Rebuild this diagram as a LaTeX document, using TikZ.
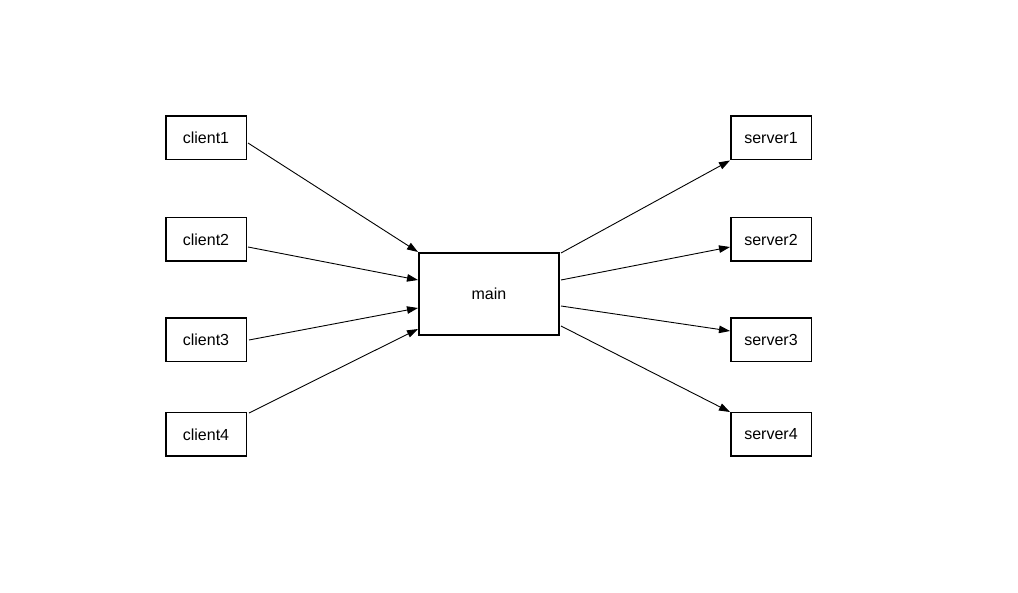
\documentclass[tikz,border=0pt]{standalone}
\usepackage{fontspec}
\setmainfont{Liberation Sans}
\usetikzlibrary{arrows.meta,calc}
\begin{document}
\begin{tikzpicture}[x=1pt,y=-1pt,
  box/.style={draw,line width=1.5pt,minimum width=80.5pt,minimum height=43.5pt,inner sep=0pt,font=\fontsize{16}{19}\selectfont},
  mainbox/.style={draw,line width=2pt,minimum width=140pt,minimum height=82pt,inner sep=0pt,font=\fontsize{16}{19}\selectfont},
  conn/.style={line width=0.9pt,-{Triangle[length=11pt,width=7.5pt]}}]
\useasboundingbox (0,0) rectangle (1018,593);
\node[box] (c1) at (206,138) {client1};
\node[box] (c2) at (206,239.5) {client2};
\node[box] (c3) at (206,340) {client3};
\node[box] (c4) at (206,434.5) {client4};
\node[mainbox] (m) at (489,294) {main};
\node[box] (s1) at (771,138) {server1};
\node[box] (s2) at (771,239.5) {server2};
\node[box] (s3) at (771,340) {server3};
\node[box] (s4) at (771,434.5) {server4};
\draw[conn] ($(c1.east)+(1,5)$) -- (m.north west);
\draw[conn] ($(c2.east)+(1,7.5)$) -- ($(m.west)+(0,-14)$);
\draw[conn] ($(c3.east)+(2,0)$) -- ($(m.west)+(0,14)$);
\draw[conn] ($(c4.north east)+(2,1)$) -- ($(m.west)+(0,35)$);
\draw[conn] ($(m.north east)+(1,1)$) -- (s1.south west);
\draw[conn] ($(m.east)+(1,-14)$) -- ($(s2.west)+(0,7.5)$);
\draw[conn] ($(m.east)+(1,12)$) -- ($(s3.west)+(0,-9)$);
\draw[conn] ($(m.east)+(1,32)$) -- (s4.north west);
\end{tikzpicture}
\end{document}
